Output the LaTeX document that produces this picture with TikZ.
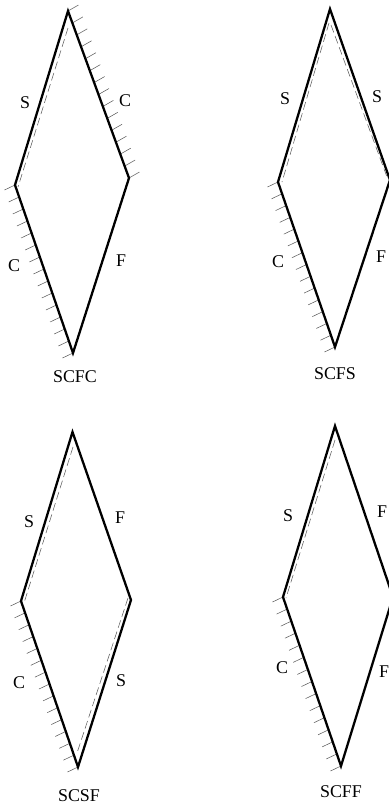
\documentclass[tikz,border=0pt]{standalone}
\usepackage{fontspec}
\setmainfont{Liberation Serif}
\usetikzlibrary{calc}
\newcommand{\hatchedge}[3]{\foreach \i in {0,...,14} \draw[hatch] ($(#1)!\i/14!(#2)$) -- ++(#3);}

\begin{document}
\begin{tikzpicture}[x=0.02cm,y=-0.02cm,
 plate/.style={draw=black,line width=1.3pt,line join=miter},
 hatch/.style={draw=black!65,line width=0.3pt},
 simple/.style={draw=black!65,line width=0.3pt,dash pattern=on 4.5pt off 2.2pt},
 edgelabel/.style={inner sep=0pt,font=\fontsize{10.2}{12}\selectfont}]
\useasboundingbox (0,0) rectangle (389,806);

% SCFC
\coordinate (ta) at (68,11);
\coordinate (ra) at (129,178);
\coordinate (ba) at (73,353);
\coordinate (la) at (15,185);
\hatchedge{ta}{ra}{10.5,-6}
\hatchedge{la}{ba}{-10.5,5}
\draw[simple] (68,28) -- (18,187);
\draw[plate] (ta) -- (ra) -- (ba) -- (la) -- cycle;
\node[edgelabel] (sa) at (25,103) {S};
\node[edgelabel] (ca) at (125,101) {C};
\node[edgelabel] (da) at (14,266) {C};
\node[edgelabel] (fa) at (121,261) {F};
\node[edgelabel] (scfc) at (75,377) {SCFC};

% SCFS
\coordinate (tb) at (330,9);
\coordinate (rb) at (390,180);
\coordinate (bb) at (335,347);
\coordinate (lb) at (278,182);
\hatchedge{lb}{bb}{-10.5,5}
\draw[simple] (329,23) -- (282,182);
\draw[simple] (331,25) -- (387,177);
\draw[plate] (tb) -- (rb) -- (bb) -- (lb) -- cycle;
\node[edgelabel] (sb) at (285,99) {S};
\node[edgelabel] (cb) at (377,97) {S};
\node[edgelabel] (db) at (278,262) {C};
\node[edgelabel] (fb) at (381,257) {F};
\node[edgelabel] (scfs) at (335,374) {SCFS};

% SCSF
\coordinate (tc) at (72.5,432);
\coordinate (rc) at (131,600);
\coordinate (bc) at (78,767);
\coordinate (lc) at (21,601);
\hatchedge{lc}{bc}{-10.5,5}
\draw[simple] (73,447) -- (24,603);
\draw[simple] (128,598) -- (77,753);
\draw[plate] (tc) -- (rc) -- (bc) -- (lc) -- cycle;
\node[edgelabel] (sc) at (29,522) {S};
\node[edgelabel] (cc) at (120,518) {F};
\node[edgelabel] (dc) at (19,683) {C};
\node[edgelabel] (fc) at (121,681) {S};
\node[edgelabel] (scsf) at (79,796) {SCSF};

% SCFF
\coordinate (td) at (335,426);
\coordinate (rd) at (393,597);
\coordinate (bd) at (341,766);
\coordinate (ld) at (283,597);
\hatchedge{ld}{bd}{-10.5,5}
\draw[simple] (335,440) -- (286,598);
\draw[plate] (td) -- (rd) -- (bd) -- (ld) -- cycle;
\node[edgelabel] (sd) at (288,516) {S};
\node[edgelabel] (cd) at (382,512) {F};
\node[edgelabel] (dd) at (282,668) {C};
\node[edgelabel] (fd) at (384,672) {F};
\node[edgelabel] (scff) at (341,792) {SCFF};
\end{tikzpicture}
\end{document}
